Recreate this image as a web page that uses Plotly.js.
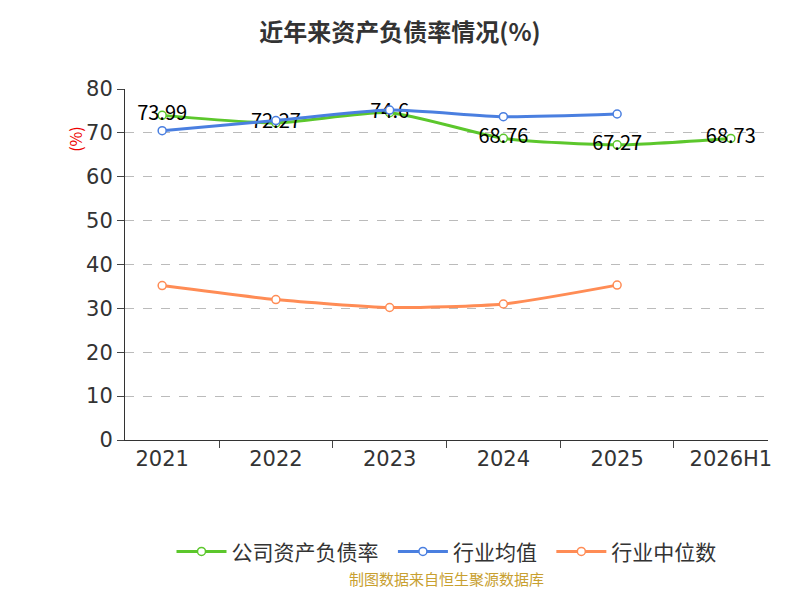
<!DOCTYPE html>
<html><head><meta charset="utf-8">
<script src="https://cdn.plot.ly/plotly-3.0.1.min.js"></script>
<style>body{margin:0}#c{width:800px;height:600px}</style>
</head><body><div id="c"></div>
<script>
const years = ['2021', '2022', '2023', '2024', '2025', '2026H1'];
const company = [73.99, 72.27, 74.6, 68.76, 67.27, 68.73];
const industryAvg = [70.5, 72.8, 75.2, 73.7, 74.3];
const industryMedian = [35.2, 32.0, 30.2, 31.0, 35.3];

const mk = (name, y, color, withText) => ({
  x: years.slice(0, y.length), y: y, name: name, type: 'scatter',
  mode: withText ? 'lines+markers+text' : 'lines+markers',
  text: withText ? y.map(String) : undefined,
  textposition: 'middle center',
  textfont: {size: 20, color: '#000'},
  line: {color: color, width: 3, shape: 'spline', smoothing: 0.6},
  marker: {size: 8, color: '#fff', line: {color: color, width: 1.5}}
});

Plotly.newPlot('c', [
  mk('公司资产负债率  ', company, '#5cc72c', true),
  mk('行业均值  ', industryAvg, '#4a7fe0', false),
  mk('行业中位数', industryMedian, '#ff8c55', false)
], {
  width: 800, height: 600,
  font: {family: 'Noto Sans CJK SC, sans-serif', color: '#333'},
  title: {text: '<b>近年来资产负债率情况(%)</b>', x: 0.5, y: 0.96, font: {size: 24, color: '#333'}},
  margin: {l: 125, r: 32, t: 89, b: 160},
  showlegend: true,
  legend: {orientation: 'h', x: 0.5, xanchor: 'center', y: -0.26, font: {size: 21}, itemwidth: 50},
  xaxis: {type: 'category', showline: true, linecolor: '#333', ticks: 'outside', tickson: 'boundaries',
    ticklen: 7, tickfont: {size: 21, family: 'DejaVu Sans, sans-serif'}, showgrid: false},
  yaxis: {range: [0, 80], dtick: 10, showline: true, linecolor: '#333', ticks: 'outside', ticklen: 7,
    tickfont: {size: 21, family: 'DejaVu Sans, sans-serif'}, gridcolor: '#bbb', griddash: 'dash', zeroline: false},
  annotations: [
    {text: '制图数据来自恒生聚源数据库', xref: 'paper', yref: 'paper', x: 0.5, y: -0.43,
      showarrow: false, font: {size: 15, color: '#c8a030'}},
    {text: '(%)', xref: 'paper', yref: 'paper', x: -0.1, y: 0.9, textangle: -90,
      showarrow: false, font: {size: 16, color: '#e00'}}
  ]
}, {displayModeBar: false});
</script></body></html>
